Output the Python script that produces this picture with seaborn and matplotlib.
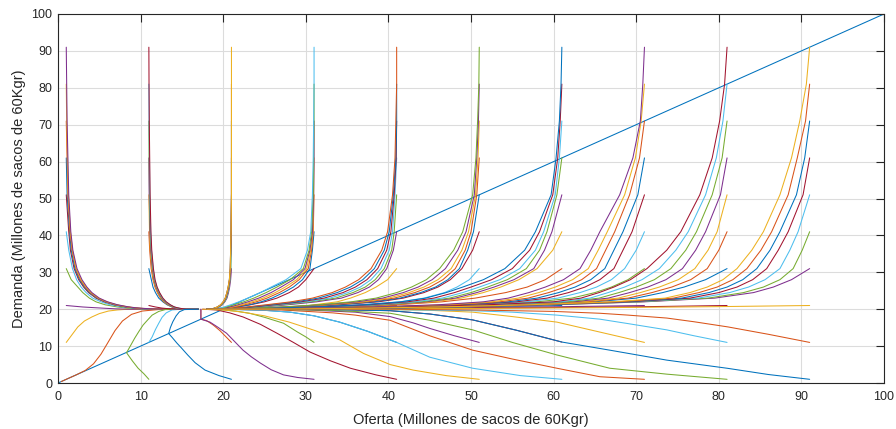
import matplotlib
matplotlib.use("Agg")
import matplotlib.pyplot as plt
import pandas as pd
import seaborn as sns

# ---------------- data ----------------
X0S = [1, 11, 21, 31, 41, 51, 61, 71, 81, 91]          # starting supply
Y0S = [1, 11, 21, 31, 41, 51, 61, 71, 81, 91]          # starting demand
LEVELS = [91, 81, 71, 61, 51, 41, 36, 31, 28, 26, 24.5, 23, 22, 21.2, 20.6, 20.25, 20.05, 20]

DIAG_X = [0, 100]
DIAG_Y = [0, 100]

MATLAB_COLORS = ["#0072BD", "#D95319", "#EDB120", "#7E2F8E", "#77AC30", "#4DBEEE", "#A2142F"]

# upper trajectories: x position at each of LEVELS (from the start level down to 20)
UP_01 = {
    31: [1, 1.6, 2.4, 3, 3.8, 4.6, 5.7, 7.2, 8.6, 10.5, 17],
    41: [1, 1.3, 1.75, 2.25, 2.8, 3.4, 4.2, 5.2, 6.3, 7.8, 9.2, 11, 17],
    51: [1, 1.3, 1.5, 1.95, 2.5, 3.1, 3.7, 4.6, 5.6, 6.8, 8.2, 9.6, 11.6, 17],
    61: [1, 1.1, 1.4, 1.6, 2.05, 2.6, 3.2, 3.8, 4.7, 5.7, 6.9, 8.3, 9.7, 11.7, 17],
    71: [1, 1.1, 1.2, 1.45, 1.7, 2.15, 2.7, 3.3, 3.9, 4.8, 5.8, 7, 8.4, 9.8, 11.8, 17],
    81: [1, 1.05, 1.15, 1.25, 1.5, 1.75, 2.2, 2.8, 3.4, 4, 4.9, 5.9, 7.1, 8.5, 9.9, 11.9, 17],
    91: [1, 1.05, 1.1, 1.2, 1.3, 1.55, 1.8, 2.3, 2.9, 3.5, 4.1, 5, 6, 7.2, 8.6, 10, 12, 17],
}
UP_11 = {
    31: [11, 11.3, 11.5, 11.8, 12.2, 12.7, 13.2, 13.8, 14.3, 15, 17],
    41: [11, 11.1, 11.28, 11.5, 11.74, 12.03, 12.4, 12.8, 13.3, 13.85, 14.45, 15.25, 17],
    51: [11, 11.08, 11.17, 11.37, 11.57, 11.81, 12.1, 12.48, 12.88, 13.38, 13.9, 14.5, 15.3, 17],
    61: [11, 11.04, 11.13, 11.23, 11.43, 11.63, 11.87, 12.17, 12.55, 12.95, 13.45, 13.95, 14.55, 15.35, 17],
    71: [11, 11.03, 11.08, 11.18, 11.28, 11.48, 11.68, 11.92, 12.22, 12.6, 13, 13.5, 14, 14.6, 15.4, 17],
    81: [11, 11.03, 11.07, 11.12, 11.22, 11.32, 11.52, 11.72, 11.97, 12.27, 12.65, 13.05, 13.55, 14.05, 14.65, 15.45, 17],
    91: [11, 11.02, 11.05, 11.1, 11.15, 11.25, 11.35, 11.55, 11.75, 12, 12.3, 12.7, 13.1, 13.6, 14.1, 14.7, 15.5, 17],
}
UP_21 = {
    31: [21, 20.9, 20.78, 20.64, 20.46, 20.2, 19.9, 19.5, 19.1, 18.6, 18],
    41: [21, 20.97, 20.93, 20.83, 20.72, 20.58, 20.4, 20.15, 19.85, 19.45, 19.05, 18.6, 18],
    51: [21, 20.98, 20.94, 20.9, 20.8, 20.68, 20.54, 20.35, 20.1, 19.8, 19.4, 19, 18.5, 18],
    61: [21, 21, 20.97, 20.92, 20.87, 20.78, 20.65, 20.5, 20.3, 20.05, 19.75, 19.35, 18.95, 18.5, 18],
    71: [21, 21, 21, 20.95, 20.9, 20.85, 20.75, 20.6, 20.45, 20.25, 20, 19.7, 19.3, 18.9, 18.5, 18],
    81: [21, 21, 21, 21, 20.95, 20.9, 20.85, 20.75, 20.6, 20.45, 20.25, 20, 19.7, 19.3, 18.9, 18.5, 18],
    91: [21, 21, 21, 21, 21, 20.95, 20.9, 20.85, 20.75, 20.6, 20.45, 20.25, 20, 19.7, 19.3, 18.9, 18.5, 18],
}
UP_31 = {
    31: [31, 30, 29.1, 28, 26.5, 25, 23.3, 21.6, 20.5, 19.8, 18],
    41: [31, 30.8, 30.5, 29.6, 28.5, 27.3, 25.9, 24.6, 23.2, 21.8, 20.8, 19.8, 18],
    51: [31, 30.9, 30.7, 30.3, 29.2, 28, 26.8, 25.3, 24, 22.6, 21.4, 20.5, 19.6, 18],
    61: [31, 30.95, 30.85, 30.6, 30.1, 28.9, 27.5, 26.3, 24.8, 23.5, 22.2, 21.1, 20.3, 19.5, 18],
    71: [31, 31, 30.95, 30.8, 30.5, 29.9, 28.5, 27, 25.8, 24.3, 23, 21.8, 20.8, 20.1, 19.4, 18],
    81: [31, 31, 30.95, 30.9, 30.7, 30.4, 29.7, 28.1, 26.5, 25.2, 23.7, 22.5, 21.3, 20.4, 19.8, 19.2, 18],
    91: [31, 31, 30.95, 30.9, 30.8, 30.6, 30.2, 29.4, 27.6, 25.8, 24.5, 23, 21.9, 20.9, 20.1, 19.5, 19, 18],
}
UP_41 = {
    31: [41, 39.9, 38.5, 37.2, 35.4, 33.8, 31, 29, 26.5, 23, 18],
    41: [41, 40.6, 39.8, 38.8, 37.7, 36.3, 34.3, 31.3, 27.8, 24.8, 22.6, 21, 18],
    51: [41, 40.7, 40.4, 39.5, 38.4, 37.2, 35.7, 33.6, 30.6, 27.2, 24.4, 22.3, 20.8, 18],
    61: [41, 40.8, 40.5, 40.1, 39.1, 37.9, 36.6, 35.1, 32.9, 30, 26.7, 24, 22, 20.6, 18],
    71: [41, 40.95, 40.7, 40.3, 39.8, 38.7, 37.4, 36, 34.5, 32.2, 29.4, 26.2, 23.6, 21.8, 20.5, 18],
    81: [41, 41, 40.9, 40.6, 40.1, 39.5, 38.3, 36.9, 35.4, 33.8, 31.5, 28.8, 25.7, 23.2, 21.5, 20.4, 18],
    91: [41, 41, 40.9, 40.8, 40.5, 39.9, 39.2, 37.9, 36.4, 34.8, 33.2, 30.8, 28.2, 25.2, 22.8, 21.2, 20.2, 18],
}
UP_51 = {
    31: [51, 49.8, 48.3, 46.8, 44.3, 41.4, 36.5, 31, 27, 23, 18],
    41: [51, 50.2, 48.9, 47.5, 46, 44.3, 41.8, 38.8, 34, 29.5, 26, 22.5, 18],
    51: [51, 50.3, 49.6, 48.6, 47.2, 45.7, 43.9, 41.4, 38.2, 33.5, 29, 25.5, 22, 18],
    61: [51, 50.7, 50, 49.3, 48.1, 46.6, 45, 43.2, 40.7, 37.5, 33, 28.5, 25, 22, 18],
    71: [51, 50.85, 50.55, 49.7, 48.9, 47.6, 46, 44.3, 42.5, 40, 36.9, 32.5, 28, 24.5, 21.5, 18],
    81: [51, 50.9, 50.7, 50.4, 49.4, 48.4, 46.9, 45.3, 43.6, 41.8, 39.3, 36.2, 32, 27.5, 24, 21.5, 18],
    91: [51, 50.95, 50.8, 50.6, 50.2, 49, 47.9, 46.2, 44.6, 42.8, 41, 38.5, 35.5, 31.5, 27, 23.5, 21, 18],
}
UP_61 = {
    31: [61, 59, 56.8, 54.2, 50.5, 46.5, 41, 34, 28.5, 23.5, 18],
    41: [61, 59.9, 58, 55.8, 53.6, 51.5, 48.8, 45.5, 40, 33.5, 28, 23, 18],
    51: [61, 59.8, 58.9, 57.6, 55.2, 52.8, 50.7, 48.1, 44.6, 39.3, 33, 27.5, 23, 18],
    61: [61, 60.4, 59.2, 58.3, 56.7, 54.4, 52, 50, 47.4, 44, 38.8, 32.5, 27, 22.5, 18],
    71: [61, 60.7, 60.2, 58.8, 57.8, 55.9, 53.5, 51, 49, 46.5, 43.2, 38.2, 32, 27, 22.5, 18],
    81: [61, 60.8, 60.5, 59.9, 58.3, 57.1, 55, 52.5, 50, 48, 45.5, 42.3, 37.6, 31.5, 26.5, 22.5, 18],
    91: [61, 60.9, 60.7, 60.3, 59.7, 57.8, 56.5, 54.1, 51.5, 49, 47, 44.5, 41.5, 37, 31, 26, 22, 18],
}
UP_71 = {
    31: [71, 69, 67, 65, 62.2, 58, 51, 42, 33, 26, 18],
    41: [71, 70, 68.6, 67, 65.2, 63.2, 60.5, 56.6, 50, 41.2, 32.5, 25.5, 18],
    51: [71, 69.5, 68.4, 67.3, 65.6, 63.8, 61.8, 59.2, 55.5, 49.2, 40.6, 32, 25.5, 18],
    61: [71, 70.2, 68.4, 67.3, 66.2, 64.5, 62.6, 60.6, 58, 54.5, 48.4, 40, 31.5, 25, 18],
    71: [71, 70.4, 69.2, 67.4, 66.3, 65.2, 63.4, 61.4, 59.4, 56.9, 53.5, 47.6, 39.4, 31, 25, 18],
    81: [71, 70.6, 69.9, 68.6, 66.5, 65.4, 64.2, 62.3, 60.2, 58.2, 55.7, 52.5, 46.8, 38.7, 30.5, 24.5, 18],
    91: [71, 70.8, 70.5, 69.6, 68, 65.6, 64.5, 63.2, 61.2, 59, 57, 54.5, 51.5, 46, 38, 30, 24, 18],
}
UP_81 = {
    31: [81, 78.4, 75.8, 73.2, 70, 65, 55.5, 45, 36, 28, 18],
    41: [81, 80, 78.6, 76.6, 74.3, 71.9, 69, 64, 54.5, 44.5, 35.5, 27.5, 18],
    51: [81, 79.8, 78.7, 77.1, 75.1, 72.8, 70.5, 67.8, 63.2, 54, 44, 35, 27.5, 18],
    61: [81, 80.2, 78.4, 77.2, 75.6, 73.6, 71.4, 69.2, 66.6, 62.4, 53.5, 43.5, 34.5, 27, 18],
    71: [81, 80.4, 79.2, 77.3, 76, 74.2, 72.2, 70, 67.9, 65.5, 61.6, 53, 43, 34, 27, 18],
    81: [81, 80.5, 79.7, 78.4, 76.3, 74.8, 72.8, 70.7, 68.6, 66.6, 64.4, 60.8, 52.5, 42.5, 33.5, 26.5, 18],
    91: [81, 80.7, 80.1, 79.2, 77.7, 75.4, 73.7, 71.3, 69.3, 67.3, 65.5, 63.3, 60, 52, 42, 33, 26, 18],
}
UP_91 = {
    31: [91, 88.8, 86.6, 84.2, 79.5, 71, 60, 49, 39, 30.5, 18],
    41: [91, 90.1, 89, 87.4, 85.4, 83, 78.7, 70.4, 59.5, 48.5, 38.5, 30, 18],
    51: [91, 89.6, 88.6, 87.4, 85.6, 83.6, 81.3, 77.5, 69.8, 59, 48, 38, 29.5, 18],
    61: [91, 90.2, 88.4, 87.2, 85.8, 84.1, 82.2, 80, 76.5, 69.2, 58.5, 47.5, 37.5, 29, 18],
    71: [91, 90.4, 89.4, 87.4, 86.2, 84.6, 82.9, 81, 78.8, 75.5, 68.5, 58, 47, 37, 29, 18],
    81: [91, 90.5, 89.5, 88.4, 86.4, 85.1, 83.4, 81.7, 79.8, 77.6, 74.5, 67.8, 57.5, 46.5, 36.5, 28.5, 18],
    91: [91, 90.6, 89.8, 88.8, 87.4, 85.4, 84.0, 82.2, 80.5, 78.6, 76.5, 73.5, 67, 57, 46, 36, 28, 18],
}

# lower trajectories (start demand 1, 11, 21): explicit (x, y) points
LOW_01 = {
    1: [(0.4, 0.4), (2.2, 2.2), (3.3, 3.4), (4.3, 5.2), (5.2, 7.8), (6.0, 10.8), (6.9, 14.2), (7.8, 16.8), (8.9, 18.6), (10.2, 19.5), (12.6, 20), (17, 20)],
    11: [(1, 11), (1.6, 12.8), (2.4, 15.2), (3.2, 16.8), (4.1, 17.9), (5, 18.8), (6.1, 19.5), (7.2, 19.8), (8.5, 20), (17, 20)],
    21: [(1, 21), (2, 20.8), (3, 20.6), (4.5, 20.4), (5.7, 20.25), (7, 20.1), (8.5, 20), (17, 20)],
}
LOW_11 = {
    1: [(11, 1), (10.4, 2.5), (9.7, 4), (9, 6), (8.3, 8.2), (8.8, 10.2), (9.3, 12.2), (9.8, 14), (10.3, 15.7), (10.9, 17.2), (11.4, 18.4), (12.2, 19.4), (13, 19.9), (17, 20)],
    11: [(11, 11), (11.4, 12.5), (11.8, 14.5), (12.2, 16.2), (12.6, 17.8), (13.1, 19), (13.8, 19.8), (15, 20), (17, 20)],
    21: [(11, 21), (11.8, 20.6), (12.6, 20.3), (13.5, 20.1), (14.5, 20), (17, 20)],
}
LOW_21 = {
    1: [(21, 1), (19.5, 2), (17.8, 3.5), (16.6, 5.5), (15.7, 7.6), (14.9, 9.6), (14.4, 10.8), (13.8, 12.4), (13.4, 13.4), (13.6, 15), (13.9, 16.6), (14.3, 18.2), (14.7, 19.3), (15.3, 19.9), (17, 20)],
    11: [(21, 11), (20.3, 12.6), (19.6, 14.2), (18.8, 15.7), (18.0, 16.9), (17.3, 17.3), (17.3, 20)],
    21: [(21, 21), (20.2, 20.5), (19.2, 20.15), (18, 20)],
}
LOW_31 = {
    1: [(31, 1), (29, 1.5), (27.3, 2.2), (25.8, 3.6), (24.5, 5.4), (23.4, 7.1), (22.4, 8.9), (21.4, 11.2), (20.4, 13.5), (19.3, 15.2), (18.4, 16.5), (17.3, 17.3), (17.3, 20)],
    11: [(31, 11), (30, 12.5), (29, 13.8), (27.3, 16.2), (25, 17.8), (23.2, 18.9), (21.5, 19.5), (20, 19.8), (18, 20)],
    21: [(31, 21), (27, 20.55), (23, 20.25), (19, 20.05), (18, 20)],
}
LOW_41 = {
    1: [(41, 1), (38.5, 2.2), (35.4, 4), (33, 6), (30.5, 8.4), (28.5, 11), (26.5, 13.5), (24.5, 15.9), (22.4, 17.9), (20.8, 19), (19.2, 19.8), (17.5, 20)],
    11: [(41, 11), (37.5, 14), (34.1, 16.5), (31, 18.2), (28.1, 19.2), (25, 19.7), (22, 19.9), (18, 20)],
    21: [(41, 21), (35, 20.6), (28, 20.3), (22, 20.1), (18, 20)],
}
LOW_51 = {
    1: [(51, 1), (47, 2), (43, 3.5), (40.2, 5), (37, 8), (34.1, 11.7), (31, 14.3), (28, 16.5), (25, 18.2), (22, 19.3), (20, 19.8), (17.5, 20)],
    11: [(51, 11), (48, 12.8), (45, 14.8), (43, 16.3), (40.2, 18), (36, 19.2), (30, 19.8), (24, 20), (18, 20)],
    21: [(51, 21), (43, 20.6), (33, 20.3), (25, 20.1), (18, 20)],
}
LOW_61 = {
    1: [(61, 1), (56, 2), (50.2, 4), (45, 7), (41, 11), (37.5, 14), (34.1, 16.5), (31, 18.2), (28.1, 19.2), (25, 19.7), (22, 19.9), (18, 20)],
    11: [(61, 11.1), (55.5, 14.3), (50.2, 17.1), (45, 18.7), (40.2, 19.6), (33, 19.9), (25, 20), (18, 20)],
    21: [(61, 21), (50, 20.6), (38, 20.3), (27, 20.1), (18, 20)],
}
LOW_71 = {
    1: [(71, 1), (65.6, 1.7), (60.4, 4), (55, 6.5), (50.2, 8.9), (45, 12.8), (40.2, 17), (36, 18.4), (33.3, 19), (27, 19.8), (18, 20)],
    11: [(71, 11), (65.6, 13.8), (60.4, 16.5), (55, 18), (50.2, 19.2), (45, 19.7), (40, 19.9), (30, 20), (18, 20)],
    21: [(71, 21), (60, 20.65), (45, 20.35), (32, 20.12), (18, 20)],
}
LOW_81 = {
    1: [(81, 1), (73.7, 2.4), (66.8, 4), (60.4, 7.6), (55, 11), (50.2, 14.4), (45, 17), (40.2, 18.9), (33, 19.7), (25, 20), (18, 20)],
    11: [(81, 11), (77, 12.8), (73.7, 14.4), (69, 16.1), (65.6, 17.3), (60.4, 18.4), (55, 19.2), (50, 19.6), (40, 19.9), (30, 20), (18, 20)],
    21: [(81, 21), (70, 20.65), (55, 20.35), (40, 20.15), (25, 20.03), (18, 20)],
}
LOW_91 = {
    1: [(91, 1), (86, 2.3), (81, 4), (73.7, 6.2), (66.8, 8.9), (61, 11.1), (55.5, 14.3), (50.2, 17.1), (45, 18.7), (40.2, 19.6), (33, 19.9), (25, 20), (18, 20)],
    11: [(91, 11), (86, 13.2), (81.1, 15.2), (77, 16.6), (73.7, 17.6), (69, 18.4), (65.6, 18.9), (60, 19.4), (50, 19.8), (40, 20), (18, 20)],
    21: [(91, 21), (80, 20.7), (65, 20.4), (50, 20.2), (35, 20.08), (18, 20)],
}

UPPER = {1: UP_01, 11: UP_11, 21: UP_21, 31: UP_31, 41: UP_41,
         51: UP_51, 61: UP_61, 71: UP_71, 81: UP_81, 91: UP_91}
LOWER = {1: LOW_01, 11: LOW_11, 21: LOW_21, 31: LOW_31, 41: LOW_41,
         51: LOW_51, 61: LOW_61, 71: LOW_71, 81: LOW_81, 91: LOW_91}

# ---------------- build long table ----------------
rows = []
for k, (x, y) in enumerate(zip(DIAG_X, DIAG_Y)):
    rows.append(("c000", k, x, y))
cid = 1
for X in X0S:
    for Y in Y0S:
        if Y in LOWER[X]:
            pts = LOWER[X][Y]
        else:
            xs = UPPER[X][Y]
            ys = LEVELS[LEVELS.index(Y):]
            pts = list(zip(xs, ys))
        name = "c%03d" % cid
        for k, (x, y) in enumerate(pts):
            rows.append((name, k, x, y))
        cid += 1
df = pd.DataFrame(rows, columns=["cid", "k", "x", "y"])
order = sorted(df["cid"].unique())
palette = {c: MATLAB_COLORS[i % 7] for i, c in enumerate(order)}

# ---------------- draw ----------------
sns.set_style("white")
plt.rcParams["font.family"] = ["Liberation Sans", "DejaVu Sans"]

fig = plt.figure(figsize=(8.96, 4.29), dpi=100)
ax = fig.add_axes([58 / 896, 1 - 383 / 429, 826 / 896, 369 / 429])

sns.lineplot(data=df, x="x", y="y", hue="cid", hue_order=order, palette=palette,
             sort=False, estimator=None, legend=False, linewidth=0.75, ax=ax)

ax.set_xlim(0, 100)
ax.set_ylim(0, 100)
ticks = list(range(0, 101, 10))
ax.set_xticks(ticks)
ax.set_yticks(ticks)
ax.grid(True, color="#dcdcdc", linewidth=0.8)
ax.set_axisbelow(True)
for s in ax.spines.values():
    s.set_color("#262626")
    s.set_linewidth(0.8)
    s.set_visible(True)
ax.tick_params(direction="in", length=5.5, width=0.8, color="#262626",
               top=True, right=True, labelsize=9, labelcolor="#262626", pad=4)
ax.tick_params(axis="x", pad=6)
ax.set_xlabel("Oferta (Millones de sacos de 60Kgr)", fontsize=10.5, color="#262626", labelpad=7)
ax.set_ylabel("Demanda (Millones de sacos de 60Kgr)", fontsize=10.5, color="#262626", labelpad=4)

fig.savefig("out.png", dpi=100)
